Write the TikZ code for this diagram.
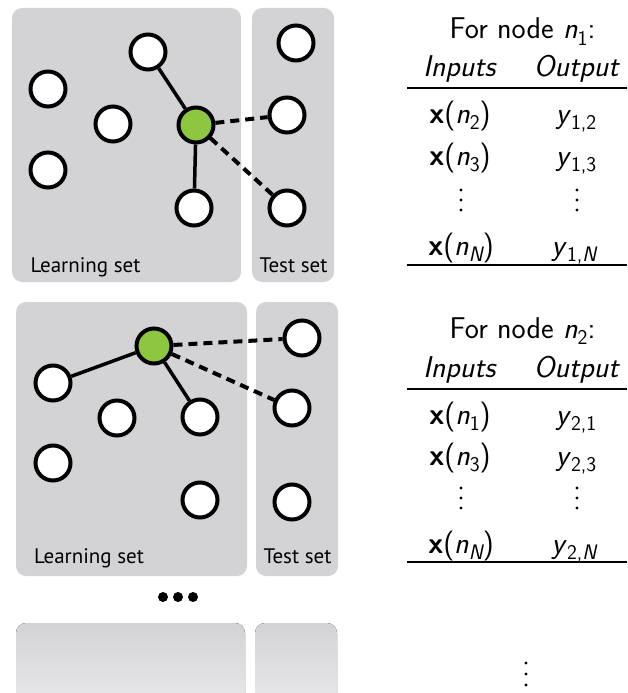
\documentclass[tikz,border=0pt]{standalone}
\usepackage{fontspec}
\newfontfamily\labfont{PT Sans}
\definecolor{panelgray}{RGB}{211,211,213}
\definecolor{panellight}{RGB}{236,236,238}
\definecolor{nodegreen}{RGB}{141,198,63}
\newcommand\mysub[1]{\raisebox{-0.22em}{\fontsize{21}{22}\selectfont #1}}
\newcommand\nn[1]{\textit{n}\mysub{#1}}
\newcommand\xx[1]{\textbf{x}(\nn{#1})}
\newcommand\yy[1]{\textit{y}\mysub{#1}}
\tikzset{
 vtx/.style={circle,draw=black,line width=4pt,fill=white,minimum size=35pt,inner sep=0pt},
 gvtx/.style={vtx,fill=nodegreen},
 panel/.style={fill=panelgray,rounded corners=10pt},
 fadepanel/.style={top color=panelgray,bottom color=panellight,rounded corners=10pt},
 solidedge/.style={line width=3.5pt},
 dashedge/.style={line width=4pt,dash pattern=on 9pt off 6pt},
 setlabel/.style={font=\labfont\fontsize{21}{24}\selectfont,anchor=base,inner sep=0pt},
 tab/.style={font=\sffamily\fontsize{30}{34}\selectfont,anchor=base,inner sep=0pt},
 vdot/.style={circle,fill=black,minimum size=3.4pt,inner sep=0pt},
 tabrule/.style={line width=1.3pt}
}
\begin{document}
\begin{tikzpicture}[x=1pt,y=-1pt]
\clip (0,0) rectangle (627,693);
\fill[white] (0,0) rectangle (627,693);

% ---------- panel 1 ----------
\fill[panel] (12,8) rectangle (241,282);
\fill[panel] (252,8) rectangle (334,282);
\node[vtx] (a1) at (148,52) {};
\node[vtx] (a2) at (48,89) {};
\node[vtx] (a3) at (113,124) {};
\node[vtx] (a4) at (48,170) {};
\node[gvtx] (ag) at (196,125) {};
\node[vtx] (a5) at (194,208) {};
\node[vtx] (t1) at (296,43) {};
\node[vtx] (t2) at (287,115) {};
\node[vtx] (t3) at (287,208) {};
\draw[solidedge] (a1) -- (ag);
\draw[solidedge] (ag) -- (a5);
\draw[dashedge] (ag) -- (t2);
\draw[dashedge] (ag) -- (t3);
\node[setlabel] (ls1) at (85.5,272) {Learning set};
\node[setlabel] (ts1) at (293.5,272) {Test set};

% ---------- panel 2 ----------
\fill[panel] (16,302) rectangle (247,576);
\fill[panel] (256,302) rectangle (338,576);
\node[gvtx] (bg) at (154,346) {};
\node[vtx] (b1) at (53,383) {};
\node[vtx] (b2) at (117,418) {};
\node[vtx] (b3) at (200,417) {};
\node[vtx] (b4) at (53,463) {};
\node[vtx] (b5) at (200,500) {};
\node[vtx] (u1) at (302,338) {};
\node[vtx] (u2) at (292,408) {};
\node[vtx] (u3) at (292,502) {};
\draw[solidedge] (bg) -- (b1);
\draw[solidedge] (bg) -- (b3);
\draw[dashedge] (bg) -- (u1);
\draw[dashedge] (bg) -- (u2);
\node[setlabel] (ls2) at (89,563) {Learning set};
\node[setlabel] (ts2) at (297.5,563) {Test set};

% dots between panels
\fill (163,597) circle (5);
\fill (178,597) circle (5);
\fill (193,597) circle (5);

% ---------- panel 3 (cut off) ----------
\fill[fadepanel] (16,623) rectangle (245,720);
\fill[fadepanel] (255,623) rectangle (337,720);

% ---------- table 1 ----------
\node[tab] (h1) at (522.5,39) {For node \nn{1}:};
\node[tab] (i1) at (460,76) {\textit{Inputs}};
\node[tab] (o1) at (577,76) {\textit{Output}};
\draw[tabrule] (407,88) -- (627,88);
\node[tab] (r11) at (460,123) {\xx{2}};
\node[tab] (s11) at (576,123) {\yy{1,2}};
\node[tab] (r12) at (460,165) {\xx{3}};
\node[tab] (s12) at (576,165) {\yy{1,3}};
\foreach \yy in {190,200,210}{
  \node[vdot] at (461,\yy) {};
  \node[vdot] at (577,\yy) {};
}
\node[tab] (r13) at (461,255) {\xx{\itshape N}};
\node[tab] (s13) at (574,255) {\yy{1,\itshape N}};
\draw[tabrule] (407,265) -- (627,265);

% ---------- table 2 ----------
\node[tab] (h2) at (522.5,338) {For node \nn{2}:};
\node[tab] (i2) at (460,377) {\textit{Inputs}};
\node[tab] (o2) at (577,377) {\textit{Output}};
\draw[tabrule] (407,389) -- (627,389);
\node[tab] (r21) at (460,424) {\xx{1}};
\node[tab] (s21) at (576,424) {\yy{2,1}};
\node[tab] (r22) at (460,465) {\xx{3}};
\node[tab] (s22) at (576,465) {\yy{2,3}};
\foreach \yy in {488,498,508}{
  \node[vdot] at (461,\yy) {};
  \node[vdot] at (577,\yy) {};
}
\node[tab] (r23) at (461,553) {\xx{\itshape N}};
\node[tab] (s23) at (574,553) {\yy{2,\itshape N}};
\draw[tabrule] (407,562) -- (627,562);

% trailing vertical dots
\foreach \yy in {663,674,685}{
  \node[vdot] at (526,\yy) {};
}
\end{tikzpicture}
\end{document}
